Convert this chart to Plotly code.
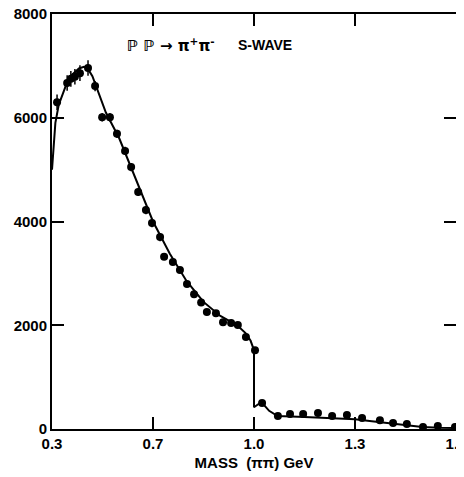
import plotly.graph_objects as go

# Data points (mass in GeV, events)
mass = [0.415, 0.445, 0.456, 0.468, 0.483, 0.507, 0.528, 0.549, 0.572, 0.593,
        0.617, 0.635, 0.656, 0.679, 0.697, 0.721, 0.733, 0.759, 0.780, 0.801,
        0.822, 0.843, 0.860, 0.887, 0.908, 0.932, 0.952, 0.976, 1.003, 1.024,
        1.071, 1.107, 1.146, 1.190, 1.232, 1.276, 1.321, 1.374, 1.413, 1.454,
        1.502, 1.546, 1.597]
events = [6300, 6670, 6750, 6790, 6860, 6960, 6610, 6010, 6010, 5690,
          5360, 5050, 4570, 4220, 3970, 3700, 3320, 3220, 3065, 2795,
          2600, 2440, 2255, 2230, 2060, 2045, 2005, 1775, 1520, 500,
          250, 290, 290, 310, 250, 270, 210, 170, 115, 95,
          40, 60, 40]
errors = [150, 150, 150, 150, 150, 150, 100, 80, 80, 80,
          80, 80, 80, 80, 80, 80, 60, 60, 60, 60,
          60, 60, 60, 60, 60, 60, 60, 60, 60, 40,
          40, 40, 40, 40, 40, 40, 40, 40, 40, 40,
          40, 40, 40]

# Fit curve
fit_mass = [0.400, 0.410, 0.420, 0.440, 0.460, 0.480, 0.495, 0.505, 0.520, 0.540,
            0.560, 0.600, 0.650, 0.700, 0.750, 0.800, 0.850, 0.900, 0.950, 0.975,
            0.990, 1.000, 1.000, 1.022, 1.045, 1.070, 1.150, 1.250, 1.300, 1.350,
            1.400, 1.450, 1.500, 1.550, 1.600]
fit_events = [5000, 5900, 6250, 6600, 6830, 6950, 6980, 6960, 6800, 6450,
              6100, 5600, 4800, 4000, 3380, 2850, 2450, 2180, 2000, 1850,
              1700, 1520, 420, 520, 350, 250, 230, 210, 190, 150,
              110, 70, 40, 25, 20]

# Axis ticks
x_tickvals = [0.4, 0.7, 1.0, 1.3, 1.6]
x_ticktext = ["0.3", "0.7", "1.0", "1.3", "1.7"]
y_tickvals = [0, 2000, 4000, 6000, 8000]
y_ticktext = ["0", "2000", "4000", "6000", "8000"]

fig = go.Figure()
fig.add_trace(go.Scatter(x=fit_mass, y=fit_events, mode="lines",
                         line=dict(color="black", width=2), hoverinfo="skip",
                         showlegend=False))
fig.add_trace(go.Scatter(x=mass, y=events, mode="markers",
                         marker=dict(color="black", size=8),
                         error_y=dict(type="data", array=errors, color="black",
                                      thickness=1.5, width=0),
                         showlegend=False))

fig.add_annotation(x=0.753, y=7400, xref="x", yref="y", showarrow=False,
                   text="<b>ℙ ℙ → π<sup>+</sup>π<sup>-</sup></b>",
                   font=dict(family="DejaVu Sans", size=15, color="black"),
                   xanchor="center", yanchor="middle")
fig.add_annotation(x=1.033, y=7400, xref="x", yref="y", showarrow=False,
                   text="S-WAVE",
                   font=dict(family="Liberation Sans", size=14, color="black", weight="bold"),
                   xanchor="center", yanchor="middle")

axis_font = dict(family="Liberation Sans", size=15, color="black", weight="bold")
fig.update_layout(
    width=456, height=469,
    margin=dict(l=44, r=8, t=6, b=48, autoexpand=False),
    paper_bgcolor="white", plot_bgcolor="white",
    xaxis=dict(range=[0.4, 1.6], tickvals=x_tickvals, ticktext=x_ticktext,
               showgrid=False, zeroline=False, showline=True, linecolor="black",
               linewidth=2, mirror="ticks", ticks="inside", ticklen=12,
               tickwidth=2, tickcolor="black", tickfont=axis_font,
               automargin=False, ticklabeloverflow="allow",
               title=dict(text="MASS  (ππ) GeV", font=axis_font, standoff=6)),
    yaxis=dict(range=[0, 8000], tickvals=y_tickvals, ticktext=y_ticktext,
               showgrid=False, zeroline=False, showline=True, linecolor="black",
               linewidth=2, mirror="ticks", ticks="inside", ticklen=12,
               tickwidth=2, tickcolor="black", tickfont=axis_font,
               automargin=False, ticklabeloverflow="allow"),
)

fig.write_html("out.html")
